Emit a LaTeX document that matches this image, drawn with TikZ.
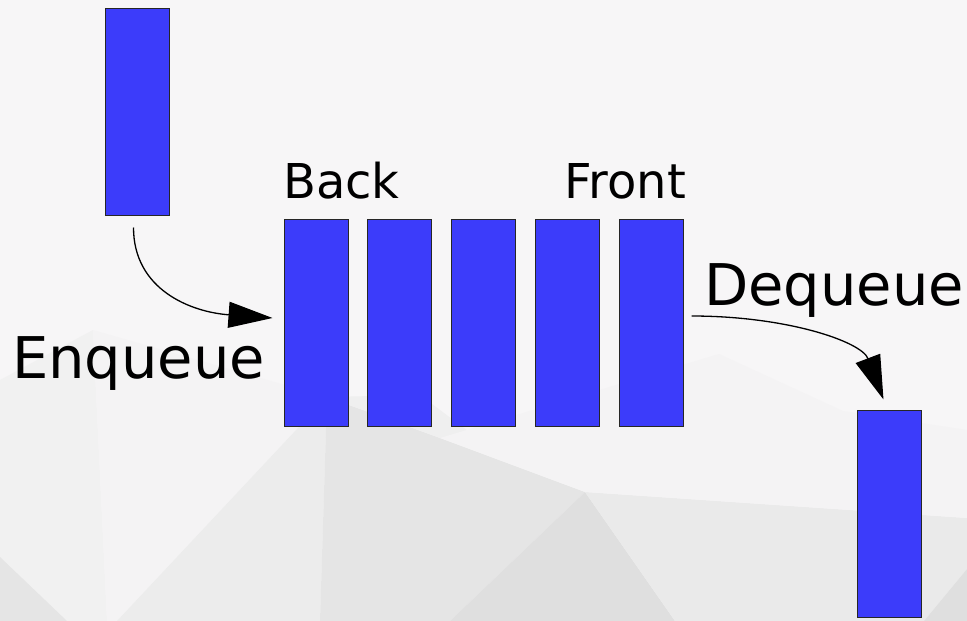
\documentclass[tikz,border=0pt]{standalone}
\usepackage{fontspec}
\setmainfont{DejaVu Sans}
\usetikzlibrary{arrows.meta,calc}

\definecolor{qblue}{RGB}{60,60,250}
\definecolor{bgA}{RGB}{247,246,247}
\definecolor{bgB}{RGB}{241,241,241}
\definecolor{bgC}{RGB}{244,243,244}
\definecolor{bgD}{RGB}{229,229,229}
\definecolor{bgE}{RGB}{236,236,236}
\definecolor{bgF}{RGB}{229,229,229}
\definecolor{bgG}{RGB}{223,223,223}
\definecolor{bgH}{RGB}{234,234,234}
\definecolor{bgI}{RGB}{239,239,239}

\begin{document}
\begin{tikzpicture}[x=1pt,y=-1pt,
  cell/.style={draw=black!85, line width=1.5pt, fill=qblue,
    minimum width=64pt, minimum height=207pt, inner sep=0pt, outer sep=0pt},
  lbl/.style={inner sep=0pt, font=\fontsize{48}{52}\selectfont},
  biglbl/.style={inner sep=0pt, font=\fontsize{57.5}{62}\selectfont},
  flow/.style={line width=1.3pt, -{Triangle[length=44pt,width=26pt]}}]

% low-poly backdrop
\useasboundingbox (0,0) rectangle (967,621);
\fill[bgA] (0,0) rectangle (967,621);
\fill[bgB] (0,380) -- (93,330) -- (107,621) -- (0,621) -- cycle;
\fill[bgC] (93,330) -- (327,397) -- (117,621) -- (107,621) -- cycle;
\fill[bgD] (0,557) -- (67,621) -- (0,621) -- cycle;
\fill[bgE] (327,397) -- (117,621) -- (320,621) -- cycle;
\fill[bgF] (327,397) -- (320,621) -- (450,621) -- (585,492) -- (440,438) -- cycle;
\fill[bgI] (327,397) -- (440,438) -- (480,440) -- (420,395) -- cycle;
\fill[bgG] (585,492) -- (450,621) -- (675,621) -- cycle;
\fill[bgH] (585,492) -- (675,621) -- (924,621) -- (967,569) -- (967,518) -- cycle;
\fill[bgG] (924,621) -- (967,569) -- (967,621) -- cycle;
\fill[bgC] (440,438) -- (585,492) -- (967,518) -- (967,430) -- (843,411) -- (719,354) -- cycle;

% the element waiting to be enqueued
\node[cell] (inbox) at (137.5,112) {};

% the queue itself
\node[cell] (q1) at (316.5,323) {};
\node[cell] (q2) at (399.5,323) {};
\node[cell] (q3) at (483.5,323) {};
\node[cell] (q4) at (567.5,323) {};
\node[cell] (q5) at (651.5,323) {};

% the element just dequeued
\node[cell] (outbox) at (889.5,514) {};

% labels
\node[lbl, anchor=base west] (back) at (283,198) {Back};
\node[lbl, anchor=base east] (front) at (686,198) {Front};
\node[biglbl, anchor=base west] (enq) at (12,378) {Enqueue};
\node[biglbl, anchor=base west] (deq) at (704,305) {Dequeue};

% connectors
\coordinate (enqStart) at ($(inbox.south)+(-4,12)$);
\coordinate (enqEnd) at ($(q1.west)+(-12,-5)$);
\coordinate (deqStart) at ($(q5.east)+(8,-7)$);
\coordinate (deqEnd) at ($(outbox.north)+(-6,-11)$);

\draw[flow] (enqStart) .. controls +(0,62) and +(-82,-6) .. (enqEnd);
\draw[flow] (deqStart) .. controls +(95,0) and +(-22,-58) .. (deqEnd);
\end{tikzpicture}
\end{document}
